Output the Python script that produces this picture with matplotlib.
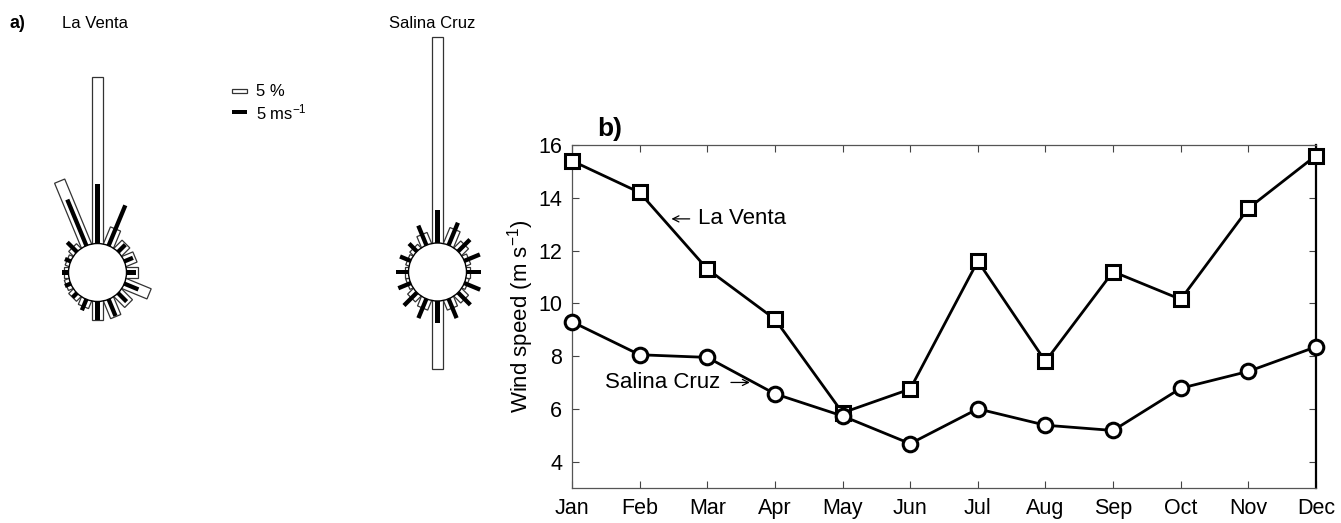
import numpy as np
import matplotlib
matplotlib.use("Agg")
import matplotlib.pyplot as plt
from matplotlib.patches import Polygon, Circle, Rectangle

plt.rcParams['font.family'] = ['Liberation Sans', 'DejaVu Sans']
plt.rcParams['mathtext.default'] = 'regular'

# ---- wind roses (16 directions, clockwise from north) ----
directions = np.arange(16) * 22.5
la_venta_freq = [53.5, 5.8, 3.6, 3.7, 3.8, 8.6, 4.8, 6.0,
                 5.9, 2.5, 2.0, 1.5, 1.3, 1.2, 2.0, 22.4]      # %
la_venta_speed = [19.0, 14.0, 3.3, 3.0, 3.0, 4.9, 3.9, 5.8,
                  5.9, 3.8, 2.0, 2.0, 2.2, 2.0, 4.4, 16.0]     # m/s
salina_freq = [66.0, 5.4, 3.0, 1.5, 1.0, 1.0, 3.0, 3.2,
               21.8, 3.2, 2.5, 1.0, 1.0, 1.0, 1.5, 3.7]        # %
salina_speed = [10.7, 7.8, 5.4, 5.4, 4.5, 5.5, 5.6, 6.7,
                7.1, 6.7, 5.9, 4.3, 4.1, 3.7, 3.6, 6.8]        # m/s

# ---- monthly mean wind speed ----
months = ['Jan', 'Feb', 'Mar', 'Apr', 'May', 'Jun',
          'Jul', 'Aug', 'Sep', 'Oct', 'Nov', 'Dec']
la_venta_monthly = [15.4, 14.2, 11.3, 9.4, 5.85, 6.75, 11.6, 7.8, 11.2, 10.15, 13.6, 15.6]
salina_monthly = [9.3, 8.05, 7.95, 6.57, 5.73, 4.68, 6.0, 5.38, 5.18, 6.78, 7.42, 8.35]

W, H = 1341, 523
fig = plt.figure(figsize=(W / 100, H / 100), dpi=100)

# overlay axes in pixel units for panel a
ax_a = fig.add_axes([0, 0, 1, 1])
ax_a.set_xlim(0, W)
ax_a.set_ylim(H, 0)
ax_a.axis('off')

PX_PER_UNIT = 3.12   # length of 1 % (or 1 m/s) on the roses
R_CIRC = 29.0
W_OPEN = 11.0
W_BLACK = 4.3


def bar_poly(cx, cy, theta, r0, r1, w):
    t = np.deg2rad(theta)
    u = np.array([np.sin(t), -np.cos(t)])
    p = np.array([np.cos(t), np.sin(t)])
    c = np.array([cx, cy])
    return [c + u * r0 - p * w / 2, c + u * r1 - p * w / 2,
            c + u * r1 + p * w / 2, c + u * r0 + p * w / 2]


def draw_rose(cx, cy, freq, speed):
    for th, f in zip(directions, freq):
        pts = bar_poly(cx, cy, th, R_CIRC - 8, R_CIRC + f * PX_PER_UNIT, W_OPEN)
        ax_a.add_patch(Polygon(pts, closed=True, facecolor='white',
                               edgecolor='#333333', lw=0.9, zorder=2))
    for th, s in zip(directions, speed):
        pts = bar_poly(cx, cy, th, R_CIRC - 8, R_CIRC + s * PX_PER_UNIT, W_BLACK)
        ax_a.add_patch(Polygon(pts, closed=True, facecolor='black',
                               edgecolor='none', zorder=3))
    ax_a.add_patch(Circle((cx, cy), R_CIRC, facecolor='white',
                          edgecolor='black', lw=1.0, zorder=4))


draw_rose(97.5, 272.5, la_venta_freq, la_venta_speed)
draw_rose(437.5, 272.0, salina_freq, salina_speed)

ax_a.text(10, 23, 'a)', fontsize=13, fontweight='bold', va='center', ha='left')
ax_a.text(62, 23, 'La Venta', fontsize=12, va='center', ha='left')
ax_a.text(432, 23, 'Salina Cruz', fontsize=12, va='center', ha='center')

# scale legend
ax_a.add_patch(Rectangle((231.7, 88.7), 5 * PX_PER_UNIT, 4.6, facecolor='white',
                         edgecolor='#333333', lw=0.9))
ax_a.add_patch(Rectangle((231.7, 110.3), 5 * PX_PER_UNIT, 3.6, facecolor='black',
                         edgecolor='none'))
ax_a.text(256, 91.5, '5 %', fontsize=12, va='center', ha='left')
ax_a.text(256, 112.5, '5 ms$^{-1}$', fontsize=12, va='center', ha='left')

# ---- panel b ----
ax = fig.add_axes([572 / W, 1 - 488 / H, (1316 - 572) / W, (488 - 145) / H])
x = np.arange(1, 13)
ax.plot(x, la_venta_monthly, color='black', lw=2.0, marker='s', ms=9.5,
        mfc='white', mec='black', mew=2.2, clip_on=False, zorder=3)
ax.plot(x, salina_monthly, color='black', lw=2.0, marker='o', ms=10.5,
        mfc='white', mec='black', mew=2.2, clip_on=False, zorder=3)
ax.set_xlim(1, 12)
ax.set_ylim(3, 16)
ax.set_xticks(x)
ax.set_xticklabels(months)
ax.set_yticks(np.arange(4, 17, 2))
ax.tick_params(direction='in', length=5, width=0.8, top=True, right=True,
               labelsize=15.5, pad=7, color='#444444')
for sp in ax.spines.values():
    sp.set_color('#555555')
    sp.set_linewidth(0.9)
ax.spines['right'].set_color('black')
ax.spines['right'].set_linewidth(1.6)
ax.set_ylabel('Wind speed (m s$^{-1}$)', fontsize=16, labelpad=2)

arrow_props = dict(arrowstyle='->', lw=0.9, color='black',
                   shrinkA=0, shrinkB=0, mutation_scale=11)
ax.annotate('', xy=(2.47, 13.2), xytext=(2.74, 13.2), arrowprops=arrow_props)
ax.text(2.86, 13.2, 'La Venta', fontsize=16, va='center', ha='left')
ax.text(1.49, 7.0, 'Salina Cruz', fontsize=16, va='center', ha='left')
ax.annotate('', xy=(3.63, 7.0), xytext=(3.35, 7.0), arrowprops=arrow_props)
ax.text(1.38, 16.6, 'b)', fontsize=19, fontweight='bold', va='center', ha='left')

fig.savefig('out.png', dpi=100)
